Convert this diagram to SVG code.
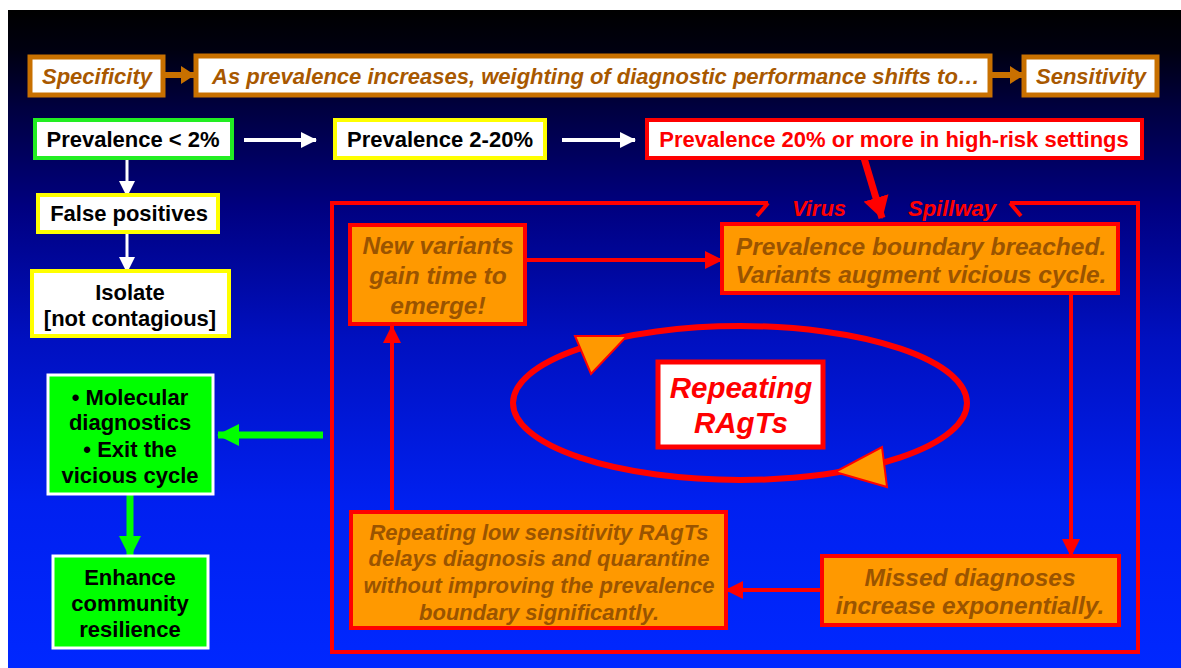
<svg xmlns="http://www.w3.org/2000/svg" width="1181" height="668" viewBox="0 0 1181 668">
<defs>
<linearGradient id="bg" x1="0" y1="0" x2="0" y2="1">
<stop offset="0" stop-color="#000000"/>
<stop offset="0.06" stop-color="#000010"/>
<stop offset="0.15" stop-color="#000040"/>
<stop offset="0.3" stop-color="#000080"/>
<stop offset="0.5" stop-color="#0010c0"/>
<stop offset="0.75" stop-color="#0020f0"/>
<stop offset="1" stop-color="#0028ff"/>
</linearGradient>
<marker id="mOr" markerUnits="userSpaceOnUse" markerWidth="14" markerHeight="18" refX="13" refY="9" orient="auto"><path d="M0,0 L14,9 L0,18 Z" fill="#c87000"/></marker>
<marker id="mWh" markerUnits="userSpaceOnUse" markerWidth="16" markerHeight="16" refX="15" refY="8" orient="auto"><path d="M0,0 L16,8 L0,16 Z" fill="#ffffff"/></marker>
<marker id="mGr" markerUnits="userSpaceOnUse" markerWidth="22" markerHeight="22" refX="21" refY="11" orient="auto"><path d="M0,0 L22,11 L0,22 Z" fill="#00ff00"/></marker>
<marker id="mRd" markerUnits="userSpaceOnUse" markerWidth="18" markerHeight="18" refX="17" refY="9" orient="auto"><path d="M0,0 L18,9 L0,18 Z" fill="#ff0000"/></marker>
<marker id="mRdB" markerUnits="userSpaceOnUse" markerWidth="22" markerHeight="26" refX="21" refY="13" orient="auto"><path d="M0,0 L22,13 L0,26 Z" fill="#ff0000"/></marker>
</defs>
<style>
text{font-family:"Liberation Sans",Arial,sans-serif;font-weight:bold;text-anchor:middle}
.top{fill:#ffffff;stroke:#c87000;stroke-width:5}
.toptx{fill:#a85800;font-style:italic;font-size:22px}
.wbox{fill:#ffffff;stroke-width:4}
.blk{fill:#000000;font-size:22px}
.gbox{fill:#00ff00;stroke:#ffffff;stroke-width:3}
.gtx{fill:#000000;font-size:22px}
.obox{fill:#ff9900;stroke:#ff0000;stroke-width:4}
.otx{fill:#9a5400;font-style:italic;font-size:24.5px}
.otx2{fill:#9a5400;font-style:italic;font-size:22px}
.red{fill:none;stroke:#ff0000;stroke-width:4}
.rtx{fill:#ff0000;font-style:italic;font-size:22px}
</style>
<rect x="8" y="10" width="1173" height="658" fill="url(#bg)"/>

<g id="connectors">
<line x1="164" y1="75" x2="194" y2="75" stroke="#c87000" stroke-width="6" marker-end="url(#mOr)"/>
<line x1="991" y1="75" x2="1023" y2="75" stroke="#c87000" stroke-width="6" marker-end="url(#mOr)"/>
<line x1="244" y1="140" x2="316" y2="140" stroke="#ffffff" stroke-width="4" marker-end="url(#mWh)"/>
<line x1="562" y1="140" x2="635" y2="140" stroke="#ffffff" stroke-width="4" marker-end="url(#mWh)"/>
<line x1="127" y1="158" x2="127" y2="196" stroke="#ffffff" stroke-width="3" marker-end="url(#mWh)"/>
<line x1="127" y1="232" x2="127" y2="272" stroke="#ffffff" stroke-width="3" marker-end="url(#mWh)"/>
<line x1="323" y1="435" x2="218" y2="435" stroke="#00ff00" stroke-width="7" marker-end="url(#mGr)"/>
<line x1="130" y1="494" x2="130" y2="557" stroke="#00ff00" stroke-width="7" marker-end="url(#mGr)"/>
<line x1="864" y1="158" x2="882" y2="218" stroke="#ff0000" stroke-width="7" marker-end="url(#mRdB)"/>
<path class="red" d="M768,203 L332,203 L332,652 L1138,652 L1138,203 L1010,203"/>
<path class="red" d="M768,203 L757,216 M1010,203 L1021,216"/>
<line class="red" x1="525" y1="260" x2="722" y2="260" marker-end="url(#mRd)"/>
<line class="red" x1="1071" y1="293" x2="1071" y2="556" marker-end="url(#mRd)"/>
<line class="red" x1="822" y1="590" x2="726" y2="590" marker-end="url(#mRd)"/>
<line class="red" x1="392" y1="511" x2="392" y2="326" marker-end="url(#mRd)"/>
<ellipse cx="740" cy="403" rx="227" ry="77" fill="none" stroke="#ff0000" stroke-width="6"/>
<polygon points="575,336 627,336 591,374" fill="#ff9900" stroke="#ff0000" stroke-width="2"/>
<polygon points="882,447 887,487 835,472" fill="#ff9900" stroke="#ff0000" stroke-width="2"/>
<text class="rtx" x="819" y="216">Virus</text>
<text class="rtx" x="952" y="216">Spillway</text>
</g>

<g id="specificity"><rect class="top" x="30" y="57" width="133" height="38"/><text class="toptx" x="97" y="84">Specificity</text></g>
<g id="shift"><rect class="top" x="196" y="56" width="794" height="39"/><text class="toptx" x="596" y="84">As prevalence increases, weighting of diagnostic performance shifts to…</text></g>
<g id="sensitivity"><rect class="top" x="1024" y="57" width="133" height="38"/><text class="toptx" x="1091" y="84">Sensitivity</text></g>

<g id="prev-low"><rect class="wbox" x="35" y="120" width="197" height="38" stroke="#22ee22"/><text class="blk" x="133" y="147">Prevalence &lt; 2%</text></g>
<g id="prev-mid"><rect class="wbox" x="335" y="120" width="210" height="38" stroke="#ffff00"/><text class="blk" x="440" y="147">Prevalence 2-20%</text></g>
<g id="prev-high"><rect class="wbox" x="647" y="120" width="495" height="38" stroke="#ff0000"/><text class="blk" x="894" y="147" style="fill:#ff0000">Prevalence 20% or more in high-risk settings</text></g>

<g id="false-pos"><rect class="wbox" x="38" y="195" width="180" height="37" stroke="#ffff00"/><text class="blk" x="129" y="221">False positives</text></g>
<g id="isolate"><rect class="wbox" x="32" y="271" width="197" height="65" stroke="#ffff00"/><text class="blk" x="130" y="300">Isolate</text><text class="blk" x="130" y="326">[not contagious]</text></g>

<g id="molecular"><rect class="gbox" x="48" y="375" width="165" height="119"/>
<text class="gtx" x="130" y="405">• Molecular</text><text class="gtx" x="130" y="430">diagnostics</text><text class="gtx" x="130" y="457">• Exit the</text><text class="gtx" x="130" y="483">vicious cycle</text></g>
<g id="enhance"><rect class="gbox" x="53" y="556" width="155" height="92"/>
<text class="gtx" x="130" y="585">Enhance</text><text class="gtx" x="130" y="611">community</text><text class="gtx" x="130" y="637">resilience</text></g>

<g id="new-variants"><rect class="obox" x="350" y="225" width="175" height="99"/>
<text class="otx" x="438" y="254">New variants</text><text class="otx" x="438" y="284">gain time to</text><text class="otx" x="438" y="314">emerge!</text></g>
<g id="breached"><rect class="obox" x="722" y="224" width="396" height="69"/>
<text class="otx" x="921" y="255">Prevalence boundary breached.</text><text class="otx" x="921" y="283">Variants augment vicious cycle.</text></g>
<g id="missed"><rect class="obox" x="822" y="556" width="297" height="69"/>
<text class="otx" x="970" y="586">Missed diagnoses</text><text class="otx" x="970" y="614">increase exponentially.</text></g>
<g id="repeating-low"><rect class="obox" x="351" y="512" width="375" height="116"/>
<text class="otx2" x="539" y="540">Repeating low sensitivity RAgTs</text><text class="otx2" x="539" y="566">delays diagnosis and quarantine</text><text class="otx2" x="539" y="593">without improving the prevalence</text><text class="otx2" x="539" y="620">boundary significantly.</text></g>
<g id="repeating-ragts"><rect x="658" y="362" width="165" height="85" fill="#ffffff" stroke="#ff0000" stroke-width="5"/>
<text x="741" y="398" fill="#ff0000" font-style="italic" font-size="29.5">Repeating</text><text x="741" y="433" fill="#ff0000" font-style="italic" font-size="29.5">RAgTs</text></g>
</svg>
